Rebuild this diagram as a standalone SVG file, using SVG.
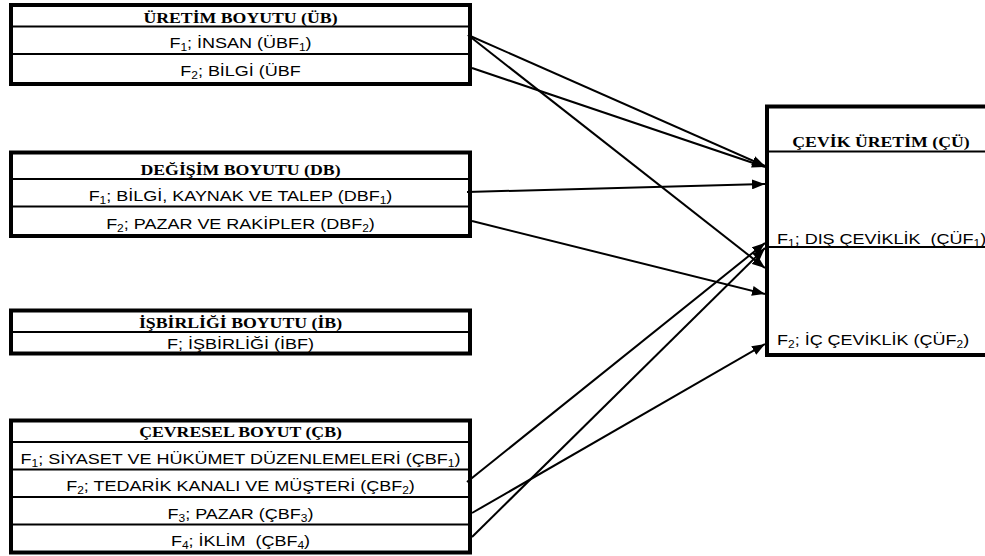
<svg xmlns="http://www.w3.org/2000/svg" width="985" height="556" viewBox="0 0 985 556">
  <style>
    .frame { fill: #fff; stroke: #000; stroke-width: 4; }
    .row { stroke: #000; stroke-width: 2; }
    .h { font-family: "Liberation Serif", "Times New Roman", serif; font-weight: bold; font-size: 14.8px; text-anchor: middle; fill: #000; }
    .t { font-family: "Liberation Sans", Arial, sans-serif; font-size: 15px; text-anchor: middle; fill: #000; white-space: pre; }
    .tl { font-family: "Liberation Sans", Arial, sans-serif; font-size: 15px; text-anchor: start; fill: #000; white-space: pre; }
    .s { font-size: 10px; }
    .link { stroke: #000; stroke-width: 2; fill: none; marker-end: url(#arrow); }
  </style>
  <defs>
    <marker id="arrow" markerUnits="userSpaceOnUse" markerWidth="14" markerHeight="10" refX="13" refY="5" orient="auto">
      <path d="M0,0 L13,5 L0,10 Z" fill="#000"/>
    </marker>
  </defs>
  <rect width="985" height="556" fill="#fff"/>

  <!-- Production dimension -->
  <g id="node-ub">
    <rect class="frame" x="11" y="5" width="459" height="79"/>
    <line class="row" x1="11" y1="26.5" x2="470" y2="26.5"/>
    <line class="row" x1="11" y1="54" x2="470" y2="54"/>
    <text class="h" transform="translate(240.5 23) scale(1.2 1)">ÜRETİM BOYUTU (ÜB)</text>
    <text class="t" transform="translate(240.5 47.5) scale(1.2 1)">F<tspan class="s" dy="3">1</tspan><tspan dy="-3">; İNSAN (ÜBF</tspan><tspan class="s" dy="3">1</tspan><tspan dy="-3">)</tspan></text>
    <text class="t" transform="translate(240.5 76) scale(1.2 1)">F<tspan class="s" dy="3">2</tspan><tspan dy="-3">; BİLGİ (ÜBF</tspan></text>
  </g>

  <!-- Exchange dimension -->
  <g id="node-db">
    <rect class="frame" x="11" y="152.5" width="459" height="83.5"/>
    <line class="row" x1="11" y1="179" x2="470" y2="179"/>
    <line class="row" x1="11" y1="206.5" x2="470" y2="206.5"/>
    <text class="h" transform="translate(240.5 175) scale(1.2 1)">DEĞİŞİM BOYUTU (DB)</text>
    <text class="t" transform="translate(240.5 201) scale(1.2 1)">F<tspan class="s" dy="3">1</tspan><tspan dy="-3">; BİLGİ, KAYNAK VE TALEP (DBF</tspan><tspan class="s" dy="3">1</tspan><tspan dy="-3">)</tspan></text>
    <text class="t" transform="translate(240.5 228.5) scale(1.2 1)">F<tspan class="s" dy="3">2</tspan><tspan dy="-3">; PAZAR VE RAKİPLER (DBF</tspan><tspan class="s" dy="3">2</tspan><tspan dy="-3">)</tspan></text>
  </g>

  <!-- Cooperation dimension -->
  <g id="node-ib">
    <rect class="frame" x="11" y="310.5" width="459" height="43"/>
    <line class="row" x1="11" y1="332" x2="470" y2="332"/>
    <text class="h" transform="translate(240.5 328) scale(1.2 1)">İŞBİRLİĞİ BOYUTU (İB)</text>
    <text class="t" transform="translate(240.5 348.5) scale(1.2 1)">F; İŞBİRLİĞİ (İBF)</text>
  </g>

  <!-- Environmental dimension -->
  <g id="node-cb">
    <rect class="frame" x="11" y="420.5" width="459" height="132"/>
    <line class="row" x1="11" y1="442" x2="470" y2="442"/>
    <line class="row" x1="11" y1="469.5" x2="470" y2="469.5"/>
    <line class="row" x1="11" y1="497" x2="470" y2="497"/>
    <line class="row" x1="11" y1="524.5" x2="470" y2="524.5"/>
    <text class="h" transform="translate(240.5 437) scale(1.2 1)">ÇEVRESEL BOYUT (ÇB)</text>
    <text class="t" transform="translate(240.5 463.5) scale(1.2 1)">F<tspan class="s" dy="3">1</tspan><tspan dy="-3">; SİYASET VE HÜKÜMET DÜZENLEMELERİ (ÇBF</tspan><tspan class="s" dy="3">1</tspan><tspan dy="-3">)</tspan></text>
    <text class="t" transform="translate(240.5 491) scale(1.2 1)">F<tspan class="s" dy="3">2</tspan><tspan dy="-3">; TEDARİK KANALI VE MÜŞTERİ (ÇBF</tspan><tspan class="s" dy="3">2</tspan><tspan dy="-3">)</tspan></text>
    <text class="t" transform="translate(240.5 518.5) scale(1.2 1)">F<tspan class="s" dy="3">3</tspan><tspan dy="-3">; PAZAR (ÇBF</tspan><tspan class="s" dy="3">3</tspan><tspan dy="-3">)</tspan></text>
    <text class="t" transform="translate(240.5 546) scale(1.2 1)">F<tspan class="s" dy="3">4</tspan><tspan dy="-3">; İKLİM  (ÇBF</tspan><tspan class="s" dy="3">4</tspan><tspan dy="-3">)</tspan></text>
  </g>

  <!-- Agile manufacturing (target) -->
  <g id="node-cu">
    <rect class="frame" x="767" y="106.5" width="240" height="248.5"/>
    <line class="row" x1="767" y1="151.5" x2="985" y2="151.5"/>
    <line class="row" x1="767" y1="247" x2="985" y2="247"/>
    <text class="h" transform="translate(881 147) scale(1.2 1)">ÇEVİK ÜRETİM (ÇÜ)</text>
    <text class="tl" transform="translate(777 244) scale(1.2 1)">F<tspan class="s" dy="3">1</tspan><tspan dy="-3">; DIŞ ÇEVİKLİK  (ÇÜF</tspan><tspan class="s" dy="3">1</tspan><tspan dy="-3">)</tspan></text>
    <text class="tl" transform="translate(777 345) scale(1.2 1)">F<tspan class="s" dy="3">2</tspan><tspan dy="-3">; İÇ ÇEVİKLİK (ÇÜF</tspan><tspan class="s" dy="3">2</tspan><tspan dy="-3">)</tspan></text>
  </g>

  <!-- Connectors -->
  <g id="connectors">
    <line class="link" x1="468" y1="35" x2="765" y2="166"/>
    <line class="link" x1="472" y1="68" x2="765" y2="167"/>
    <line class="link" x1="467" y1="192" x2="765" y2="184"/>
    <line class="link" x1="468" y1="35" x2="765" y2="268"/>
    <line class="link" x1="472" y1="221" x2="765" y2="294"/>
    <line class="link" x1="467" y1="482" x2="765" y2="243"/>
    <line class="link" x1="472" y1="537" x2="765" y2="248"/>
    <line class="link" x1="472" y1="513" x2="765" y2="344"/>
  </g>
</svg>
